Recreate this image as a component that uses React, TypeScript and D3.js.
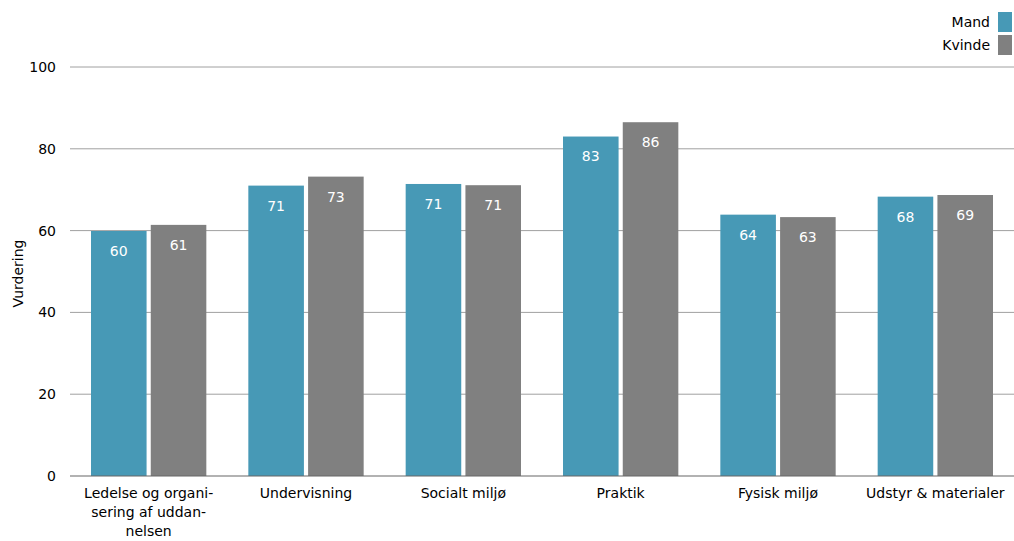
import React from "react";
import * as d3 from "d3";

const categories = [
  ["Ledelse og organi-", "sering af uddan-", "nelsen"],
  ["Undervisning"],
  ["Socialt miljø"],
  ["Praktik"],
  ["Fysisk miljø"],
  ["Udstyr & materialer"],
];
const categoryKeys = ["Ledelse", "Undervisning", "Socialt miljø", "Praktik", "Fysisk miljø", "Udstyr"];
const mandValues = [59.9, 71.0, 71.4, 83.0, 63.9, 68.3];
const kvindeValues = [61.4, 73.2, 71.1, 86.5, 63.3, 68.7];
const mandLabels = ["60", "71", "71", "83", "64", "68"];
const kvindeLabels = ["61", "73", "71", "86", "63", "69"];
const yTicks = [0, 20, 40, 60, 80, 100];

const W = 1014, H = 541;
const left = 70, right = 1014, top = 67, bottom = 476;
const font = "Tahoma, 'DejaVu Sans', sans-serif";
const blue = "#4799b6";
const grey = "#808080";

export default function App() {
  const x = d3.scaleBand<string>().domain(categoryKeys).range([left, right]).paddingInner(0).paddingOuter(0);
  const y = d3.scaleLinear().domain([0, 100]).range([bottom, top]);
  const inner = d3.scaleBand<string>().domain(["m", "k"]).range([21, x.bandwidth() - 21]).paddingInner(0.07);
  const series = [
    { key: "m", values: mandValues, labels: mandLabels, color: blue },
    { key: "k", values: kvindeValues, labels: kvindeLabels, color: grey },
  ];
  return (
    <svg width={W} height={H} style={{ position: "absolute", left: 0, top: 0 }} fontFamily={font}>
      {yTicks.map((t) => (
        <g key={t}>
          {t > 0 && <line x1={left} x2={right} y1={y(t)} y2={y(t)} stroke="#a0a0a0" strokeWidth={1} />}
          <text x={56} y={y(t)} dy="0.35em" textAnchor="end" fontSize={14} fill="#000">{t}</text>
        </g>
      ))}
      {categoryKeys.map((c, i) => (
        <g key={c} transform={`translate(${x(c)},0)`}>
          {series.map((s) => {
            const bx = inner(s.key)!;
            const bw = inner.bandwidth();
            const v = s.values[i];
            return (
              <g key={s.key}>
                <rect x={bx} y={y(v)} width={bw} height={bottom - y(v)} fill={s.color} />
                <text x={bx + bw / 2} y={y(v) + 20} dy="0.35em" textAnchor="middle" fontSize={14} fill="#fff">{s.labels[i]}</text>
              </g>
            );
          })}
          {categories[i].map((line, j) => (
            <text key={j} x={x.bandwidth() / 2} y={493 + j * 19} dy="0.35em" textAnchor="middle" fontSize={14} fill="#000">{line}</text>
          ))}
        </g>
      ))}
      <line x1={left} x2={right} y1={bottom} y2={bottom} stroke="#666" strokeWidth={1.2} />
      <text transform={`translate(18,${(top + bottom) / 2 + 2}) rotate(-90)`} textAnchor="middle" dy="0.35em" fontSize={14} fill="#000">Vurdering</text>
      <rect x={998} y={12} width={14} height={20} fill={blue} />
      <rect x={998} y={35} width={14} height={20} fill={grey} />
      <text x={990} y={22} dy="0.35em" textAnchor="end" fontSize={14} fill="#000">Mand</text>
      <text x={990} y={45} dy="0.35em" textAnchor="end" fontSize={14} fill="#000">Kvinde</text>
    </svg>
  );
}
